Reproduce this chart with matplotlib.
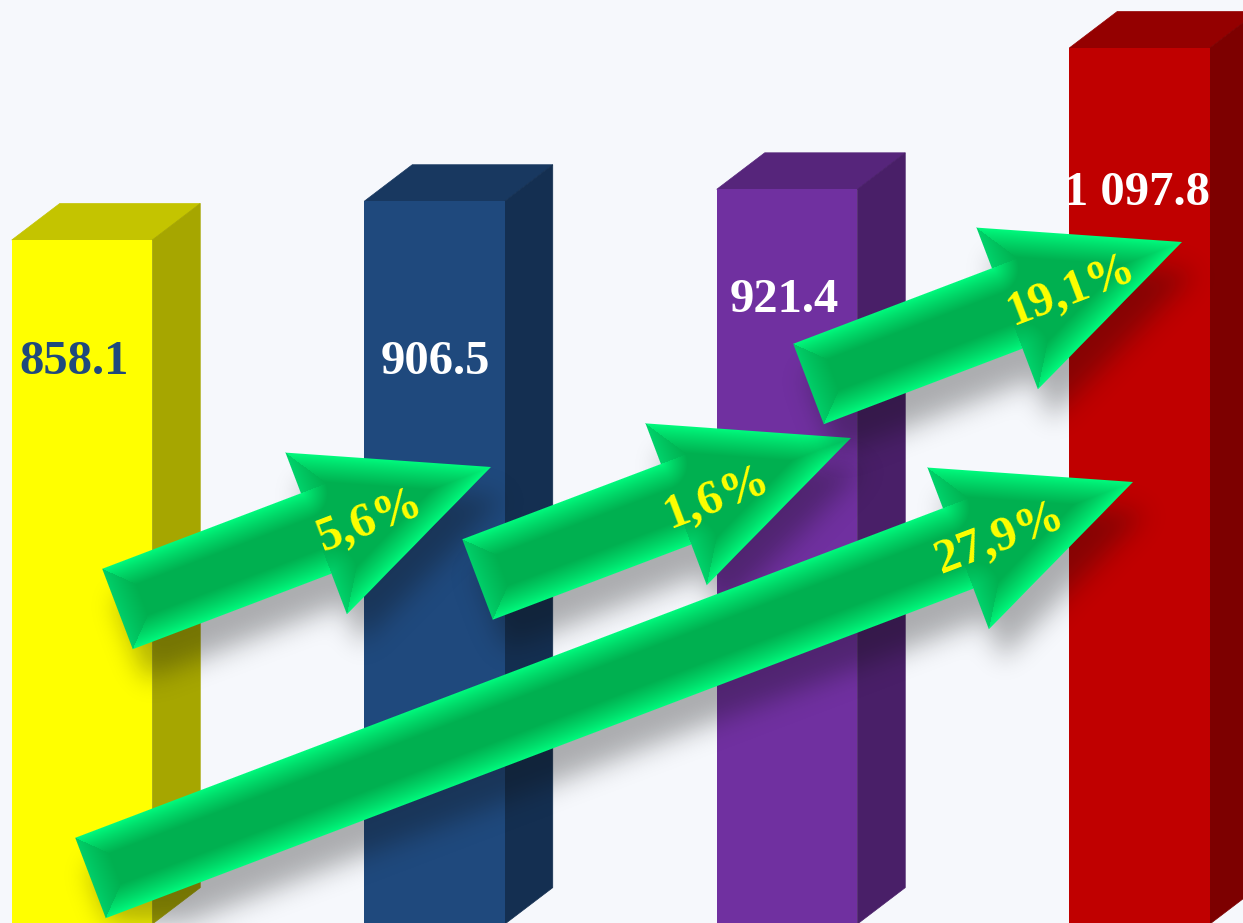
import numpy as np
import matplotlib
matplotlib.use("Agg")
import matplotlib.pyplot as plt
from matplotlib.path import Path
from matplotlib.patches import Polygon
from matplotlib.transforms import Affine2D

# ---- data ----
values = [858.1, 906.5, 921.4, 1097.8]
value_labels = ["858.1", "906.5", "921.4", "1 097.8"]
front_colors = ["#FFFF00", "#1F497D", "#7030A0", "#C00000"]
label_colors = ["#1F497D", "white", "white", "white"]
growth_labels = ["5,6%", "1,6%", "19,1%", "27,9%"]

# ---- layout (pixels of the 1243x923 canvas) ----
W, H = 1243, 923
BG = "#F6F8FC"
PX_PER_UNIT = 0.801
REF_VALUE, REF_PY = values[0], 240.0
FIRST_CX, STEP = 82.0, 352.5
BAR_W_PX = 140.5
DEPTH_X, DEPTH_Y = 48.0, 36.5
BASE = 4.0
label_pos = [(74.5, 374), (435, 374), (784, 312), (1137, 205)]
arrow_tails = [(117.5, 609), (477.5, 579.5), (808.5, 384), (90.5, 878)]
arrow_tips = [(491, 467), (851, 438), (1182, 242), (1133, 482)]
growth_pos = [(370, 520), (716, 497), (1071, 290), (1000, 538)]
SHAFT_HALF, HEAD_HALF, HEAD_LEN = 43.0, 86.5, 187.0
BEVEL = 27.0
SHADOW_DX, SHADOW_DY, SHADOW_SIGMA, SHADOW_ALPHA = 13, 30, 13.0, 0.32

fig = plt.figure(figsize=(W / 100, H / 100), dpi=100, facecolor=BG)
ax = fig.add_axes([0, 0, 1, 1], facecolor=BG)
ax.set_xlim(-FIRST_CX / STEP, (W - FIRST_CX) / STEP)
ax.set_ylim(REF_VALUE + (REF_PY - H) / PX_PER_UNIT, REF_VALUE + REF_PY / PX_PER_UNIT)
ax.axis("off")
xlim, ylim = ax.get_xlim(), ax.get_ylim()
px_tf = Affine2D().scale(1, -1).translate(0, H)


def shade(hex_color, f):
    rgb = np.array(matplotlib.colors.to_rgb(hex_color))
    return tuple(rgb * f)


# ---- bars ----
xs = np.arange(len(values))
bw = BAR_W_PX / STEP
ddx, ddy = DEPTH_X / STEP, DEPTH_Y / PX_PER_UNIT
for x, v, c in zip(xs, values, front_colors):
    l, r = x - bw / 2, x + bw / 2
    top_c, side_c = shade(c, 0.77), shade(c, 0.65)
    ax.add_patch(Polygon([(l, v), (r, v), (r + ddx, v + ddy), (l + ddx, v + ddy)],
                         closed=True, fc=top_c, ec=top_c, lw=0.5, zorder=2))
    ax.add_patch(Polygon([(r, BASE), (r + ddx, BASE + ddy), (r + ddx, v + ddy), (r, v)],
                         closed=True, fc=side_c, ec=side_c, lw=0.5, zorder=2))
ax.bar(xs, np.array(values) - BASE, bottom=BASE, width=bw, color=front_colors, zorder=2.5, linewidth=0)

for txt, pos, col in zip(value_labels, label_pos, label_colors):
    ax.text(pos[0], pos[1], txt, transform=px_tf, color=col, ha="center", va="baseline",
            fontsize=35, fontweight="bold", family="Liberation Serif", zorder=3)

# ---- arrows ----
yy, xx = np.mgrid[0:H, 0:W]
px = xx + 0.5
py = yy + 0.5
pts = np.column_stack([px.ravel(), py.ravel()])


def seg_dist(a, b):
    ab = b - a
    t = ((px - a[0]) * ab[0] + (py - a[1]) * ab[1]) / (ab @ ab)
    t = np.clip(t, 0, 1)
    return np.hypot(px - (a[0] + t * ab[0]), py - (a[1] + t * ab[1]))


def blur(img, sigma, pad=80):
    padded = np.pad(img, pad)
    kh = np.fft.fftfreq(padded.shape[0])
    kw = np.fft.rfftfreq(padded.shape[1])
    g = np.exp(-2 * (np.pi * sigma) ** 2 * (kh[:, None] ** 2 + kw[None, :] ** 2))
    out = np.fft.irfft2(np.fft.rfft2(padded) * g, s=padded.shape)
    return out[pad:-pad, pad:-pad]


def shifted(mask, dx, dy):
    out = np.zeros_like(mask, dtype=float)
    out[dy:, dx:] = mask[:H - dy, :W - dx]
    return out


CORE = np.array([0, 176, 80]) / 255
for i, (tail, tip) in enumerate(zip(arrow_tails, arrow_tips)):
    tail = np.array(tail, float)
    tip = np.array(tip, float)
    u = (tip - tail) / np.linalg.norm(tip - tail)
    n = np.array([u[1], -u[0]])  # points to the upper side
    neck = tip - u * HEAD_LEN
    poly = np.array([
        tail + n * SHAFT_HALF,
        neck + n * SHAFT_HALF,
        neck + n * HEAD_HALF,
        tip,
        neck - n * HEAD_HALF,
        neck - n * SHAFT_HALF,
        tail - n * SHAFT_HALF,
    ])
    # edge tint: long edges are bright, back-facing edges are duller
    edge_cols = np.array([
        [0, 252, 126], [0, 212, 108], [0, 252, 126], [0, 252, 126],
        [0, 212, 108], [0, 252, 126], [0, 208, 106],
    ]) / 255
    dists = np.stack([seg_dist(poly[k], poly[(k + 1) % 7]) for k in range(7)])
    near = dists.argmin(axis=0)
    d = dists.min(axis=0)
    inside = Path(poly).contains_points(pts).reshape(H, W)
    sd = np.where(inside, d, -d)
    alpha = np.clip(sd + 0.5, 0, 1)

    # drop shadow
    shadow = blur(shifted(inside, SHADOW_DX, SHADOW_DY), SHADOW_SIGMA)
    sh_rgba = np.zeros((H, W, 4))
    sh_rgba[..., :3] = 0.05
    sh_rgba[..., 3] = np.clip(shadow, 0, 1) * SHADOW_ALPHA
    ax.imshow(sh_rgba, extent=(*xlim, *ylim), origin="upper", aspect="auto",
              interpolation="nearest", zorder=4 + 2 * i)

    # bevelled body
    t = np.clip(d / BEVEL, 0, 1) ** 0.85
    rgb = edge_cols[near] * (1 - t[..., None]) + CORE * t[..., None]
    rgba = np.dstack([rgb, alpha])
    ax.imshow(rgba, extent=(*xlim, *ylim), origin="upper", aspect="auto",
              interpolation="nearest", zorder=5 + 2 * i)

ax.set_xlim(xlim)
ax.set_ylim(ylim)

angle = np.degrees(np.arctan2(arrow_tails[0][1] - arrow_tips[0][1], arrow_tips[0][0] - arrow_tails[0][0]))
for txt, pos in zip(growth_labels, growth_pos):
    ax.text(pos[0], pos[1], txt, transform=px_tf, color="#FFFF00", ha="center", va="center",
            rotation=angle, rotation_mode="anchor", fontsize=35, fontweight="bold",
            family="Liberation Serif", zorder=20)

fig.savefig("out.png", dpi=100, facecolor=BG)
